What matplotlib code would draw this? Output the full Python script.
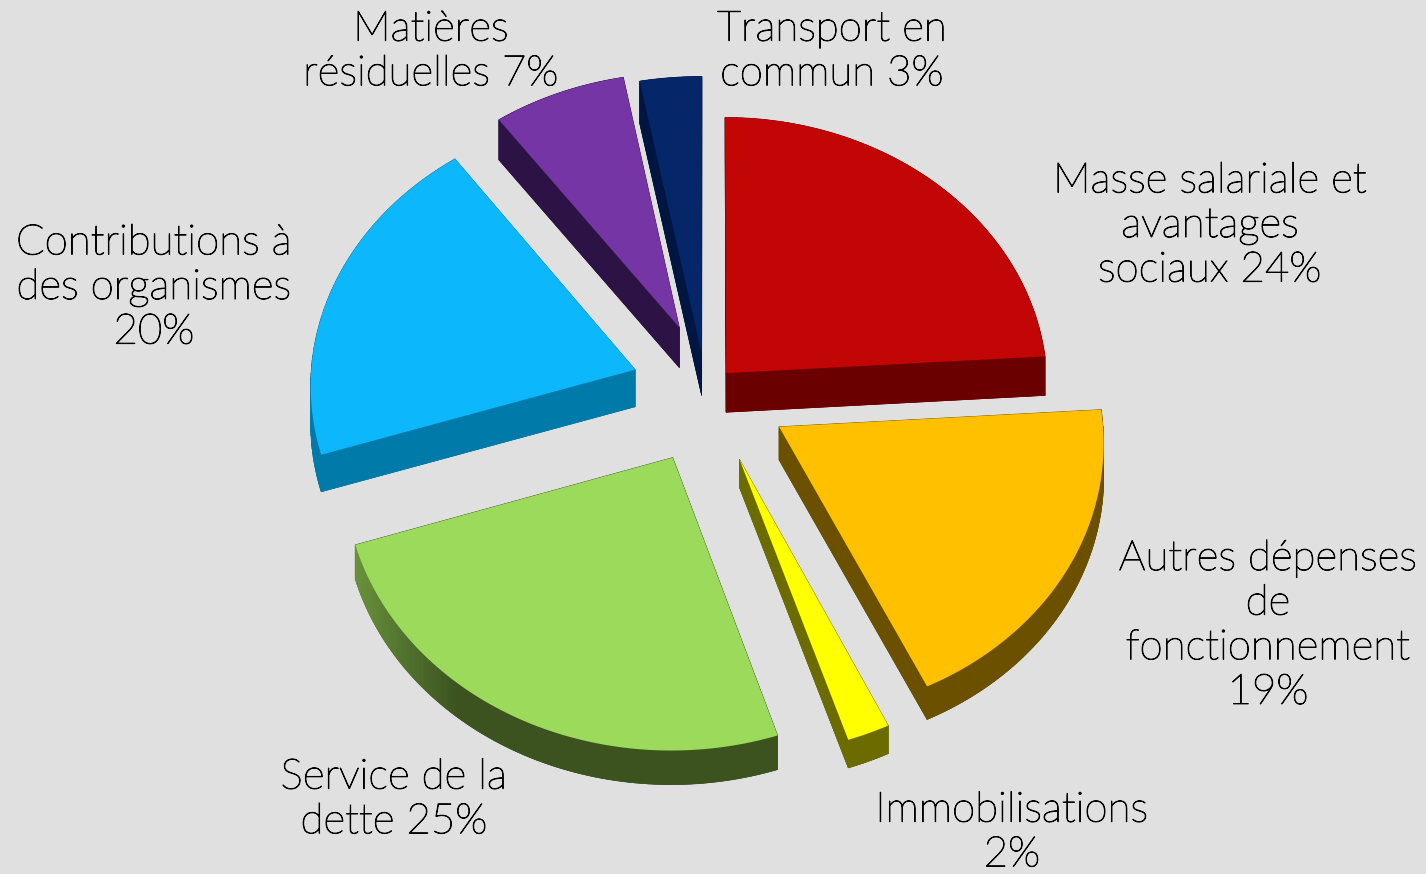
import numpy as np
import matplotlib
matplotlib.use("Agg")
import matplotlib.pyplot as plt
import matplotlib.patheffects as pe

labels = ["Masse salariale et\navantages\nsociaux 24%",
          "Autres dépenses\nde\nfonctionnement\n19%",
          "Immobilisations\n2%",
          "Service de la\ndette 25%",
          "Contributions à\ndes organismes\n20%",
          "Matières\nrésiduelles 7%",
          "Transport en\ncommun 3%"]
values = [24, 19, 2, 25, 20, 7, 3]
top_colors = ["#c20505", "#ffc000", "#ffff00", "#9bda5a", "#0db7fb", "#7535a5", "#05276a"]
side_colors = ["#6b0000", "#6b5000", "#6b6b00", "#3c5320", "#007aa8", "#2d1245", "#001540"]
explode = [0.10, 0.27, 0.30, 0.21, 0.23, 0.24, 0.11]
radius = [0.99, 0.99, 1.0, 1.0, 1.0, 1.0, 1.08]
nudge_x = [1, 0, 0, 1, 3, 7, 2]
nudge_y = [-2, -6, -13, 11, -6, -8, -12]
depths = [39, 33, 28, 34, 37, 40, 42]
label_xy = [(1210, 226), (1268, 626), (1012, 833), (394, 800), (154, 288), (431, 52), (832, 52)]

# projection of the tilted pie plane on the picture
cx, cy, R, q, k = 703, 395, 325, 0.84, 0.05


def project(x, y):
    w = 1 + k * y
    return cx + R * x / w, cy - R * q * y / w


fig = plt.figure(figsize=(14.26, 8.74), dpi=100, facecolor="#e0e0e0")
ax = fig.add_axes([0, 0, 1, 1])
ax.set_xlim(0, 1426)
ax.set_ylim(874, 0)
ax.axis("off")

edges = np.cumsum([0] + values) / sum(values) * 2 * np.pi
for i in [5, 6, 4, 0, 1, 3, 2]:
    a0, a1 = edges[i], edges[i + 1]
    mid = (a0 + a1) / 2
    ox, oy = explode[i] * np.sin(mid), explode[i] * np.cos(mid)
    t = np.linspace(a0, a1, 80)
    rx, ry = project(ox + radius[i] * np.sin(t), oy + radius[i] * np.cos(t))
    ax0, ay0 = project(ox, oy)
    rx, ax0 = rx + nudge_x[i], ax0 + nudge_x[i]
    ry, ay0 = ry + nudge_y[i], ay0 + nudge_y[i]
    px = np.r_[ax0, rx]
    py = np.r_[ay0, ry]
    depth = depths[i]
    # cut faces and bottom
    ax.fill(px, py + depth, color=side_colors[i], lw=0.5)
    for j in [0, -1]:
        ax.fill([ax0, rx[j], rx[j], ax0], [ay0, ry[j], ry[j] + depth, ay0 + depth],
                color=side_colors[i], lw=0.5)
    # rim, lighter towards the left edge of the pie
    for j in range(len(t) - 1):
        shade = 0.0
        if i == 3:
            shade = np.clip((np.sin(t[j]) + 0.62) / -0.38, 0, 1) * 0.55
        c = np.array(matplotlib.colors.to_rgb(side_colors[i]))
        top = np.array(matplotlib.colors.to_rgb(top_colors[i]))
        ax.fill([rx[j], rx[j + 1], rx[j + 1], rx[j]],
                [ry[j], ry[j + 1], ry[j + 1] + depth, ry[j] + depth],
                color=c + (top - c) * shade, lw=0.5)
    ax.fill(px, py, color=top_colors[i], lw=0)

for lab, (x, y) in zip(labels, label_xy):
    ax.text(x, y, lab, ha="center", va="center", fontsize=30.3, family="Lato", weight="light",
            color="#000000", linespacing=1.22,
            path_effects=[pe.withStroke(linewidth=0.7, foreground="#000000")])

fig.savefig("out.png", dpi=100, facecolor=fig.get_facecolor())
